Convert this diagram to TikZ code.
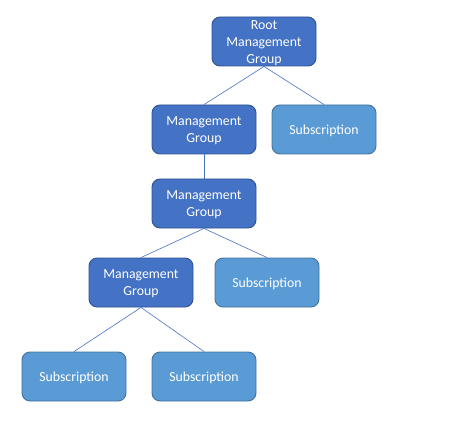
\documentclass[tikz,border=0pt]{standalone}
\usepackage{fontspec}
\setmainfont{Carlito}
\definecolor{mgfill}{HTML}{4472C4}
\definecolor{mgdraw}{HTML}{2F528F}
\definecolor{subfill}{HTML}{5B9BD5}
\definecolor{subdraw}{HTML}{41719C}
\definecolor{linkc}{HTML}{4472C4}
\begin{document}
\begin{tikzpicture}[x=1pt,y=-1pt,
  box/.style={rounded corners=8pt, minimum width=104pt, minimum height=49pt, inner sep=0pt, text=white, align=center, font=\fontsize{13.8}{16.7}\selectfont, line width=0.9pt},
  mg/.style={box, fill=mgfill, draw=mgdraw},
  sub/.style={box, fill=subfill, draw=subdraw},
  txt/.style={text=white, align=center, font=\fontsize{13.8}{16.7}\selectfont, inner sep=0pt},
  link/.style={draw=linkc, line width=0.6pt}]
\useasboundingbox (0,0) rectangle (450,425);
\node[mg] (root) at (264,41.5) {};
\node[txt] (roott) at (264,43) {Root\\Management\\Group};
\node[mg] (mg1) at (204,129.5) {};
\node[txt] (mg1t) at (204,131) {Management\\Group};
\node[sub] (s1) at (324,129.5) {};
\node[txt] (s1t) at (324,131) {Subscription};
\node[mg] (mg2) at (204,203.5) {};
\node[txt] (mg2t) at (204,205) {Management\\Group};
\node[mg] (mg3) at (141,282.5) {};
\node[txt] (mg3t) at (141,284) {Management\\Group};
\node[sub] (s2) at (267,282.5) {};
\node[txt] (s2t) at (267,284) {Subscription};
\node[sub] (s3) at (74,376.5) {};
\node[txt] (s3t) at (74,378) {Subscription};
\node[sub] (s4) at (204,376.5) {};
\node[txt] (s4t) at (204,378) {Subscription};
\draw[link] (root.south) -- (mg1.north);
\draw[link] (root.south) -- (s1.north);
\draw[link] (mg1.south) -- (mg2.north);
\draw[link] (mg2.south) -- (mg3.north);
\draw[link] (mg2.south) -- (s2.north);
\draw[link] (mg3.south) -- (s3.north);
\draw[link] (mg3.south) -- (s4.north);
\end{tikzpicture}
\end{document}
